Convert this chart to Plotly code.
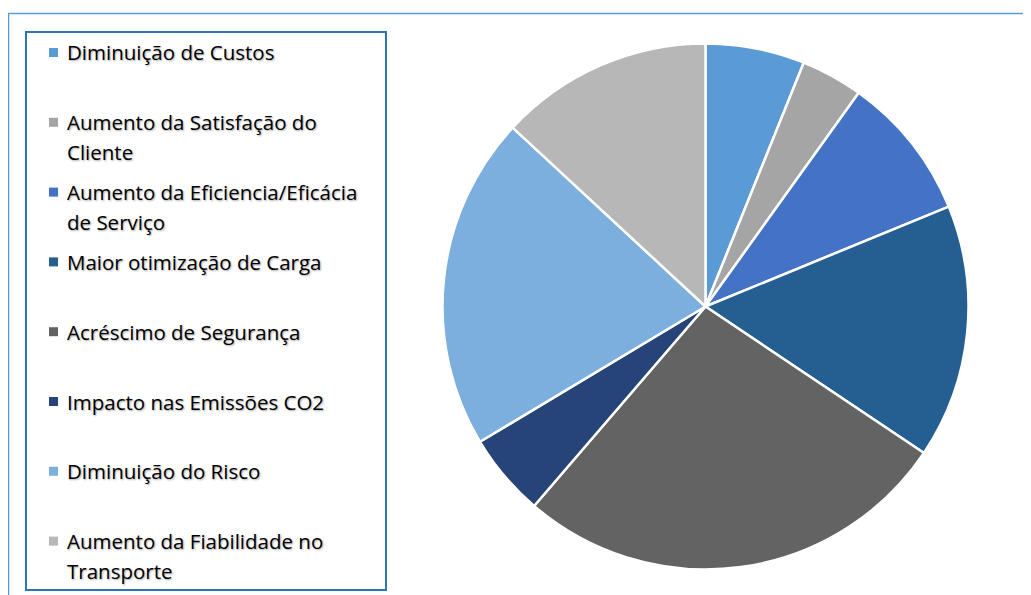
import plotly.graph_objects as go

# categories (legend text, "|" marks where the legend wraps the label)
labels = [
    "Diminuição de Custos",
    "Aumento da Satisfação do|Cliente",
    "Aumento da Eficiencia/Eficácia|de Serviço",
    "Maior otimização de Carga",
    "Acréscimo de Segurança",
    "Impacto nas Emissões CO2",
    "Diminuição do Risco",
    "Aumento da Fiabilidade no|Transporte",
]
# share of each answer (%)
values = [6.1, 3.8, 8.9, 15.6, 26.9, 5.1, 20.5, 13.1]
colors = ["#5B9BD5", "#A5A5A5", "#4472C4", "#255E91",
          "#636363", "#264478", "#7CAFDD", "#B7B7B7"]

W, H = 1031, 595
OFF = 8  # the page body adds an 8px margin around the plot div


def px(x):
    return (x - OFF) / W


def py(y):
    return 1 - (y - OFF) / H


fig = go.Figure(
    go.Pie(
        labels=[l.replace("|", " ") for l in labels],
        values=values,
        sort=False,
        direction="clockwise",
        rotation=0,
        textinfo="none",
        marker=dict(colors=colors, line=dict(color="white", width=2.5)),
        domain=dict(x=[px(442.5), px(968.5)], y=[py(569.5), py(43.5)]),
        showlegend=False,
    )
)

# hand-drawn legend, Excel style: fixed slot per entry, text wraps downward
font = dict(family="Open Sans", size=20.5, color="#000000",
            shadow="1px 1px 2px rgba(0,0,0,0.35)")
shapes = [
    # outer chart border
    dict(type="rect", xref="paper", yref="paper",
         x0=px(8.5), x1=1.02, y0=-0.02, y1=py(13.5),
         line=dict(color="#5B9BD5", width=1.5)),
    # legend box
    dict(type="rect", xref="paper", yref="paper",
         x0=px(26), x1=px(386), y0=py(590), y1=py(32),
         line=dict(color="#2E75B6", width=2)),
]
annotations = []
slot, first, line_gap = 69.8, 52.5, 29.5
for i, (lab, col) in enumerate(zip(labels, colors)):
    yc = first + slot * i
    shapes.append(dict(type="rect", xref="paper", yref="paper",
                       x0=px(49), x1=px(58),
                       y0=py(yc + 4.5), y1=py(yc - 4.5),
                       line=dict(width=0), fillcolor=col))
    for j, part in enumerate(lab.split("|")):
        annotations.append(dict(
            text=part, xref="paper", yref="paper",
            x=px(65), y=py(yc + j * line_gap),
            xanchor="left", yanchor="middle", showarrow=False,
            font=font,
        ))

fig.update_layout(
    width=W, height=H,
    margin=dict(l=0, r=0, t=0, b=0),
    paper_bgcolor="white",
    plot_bgcolor="white",
    shapes=shapes,
    annotations=annotations,
)

fig.write_html("out.html")
